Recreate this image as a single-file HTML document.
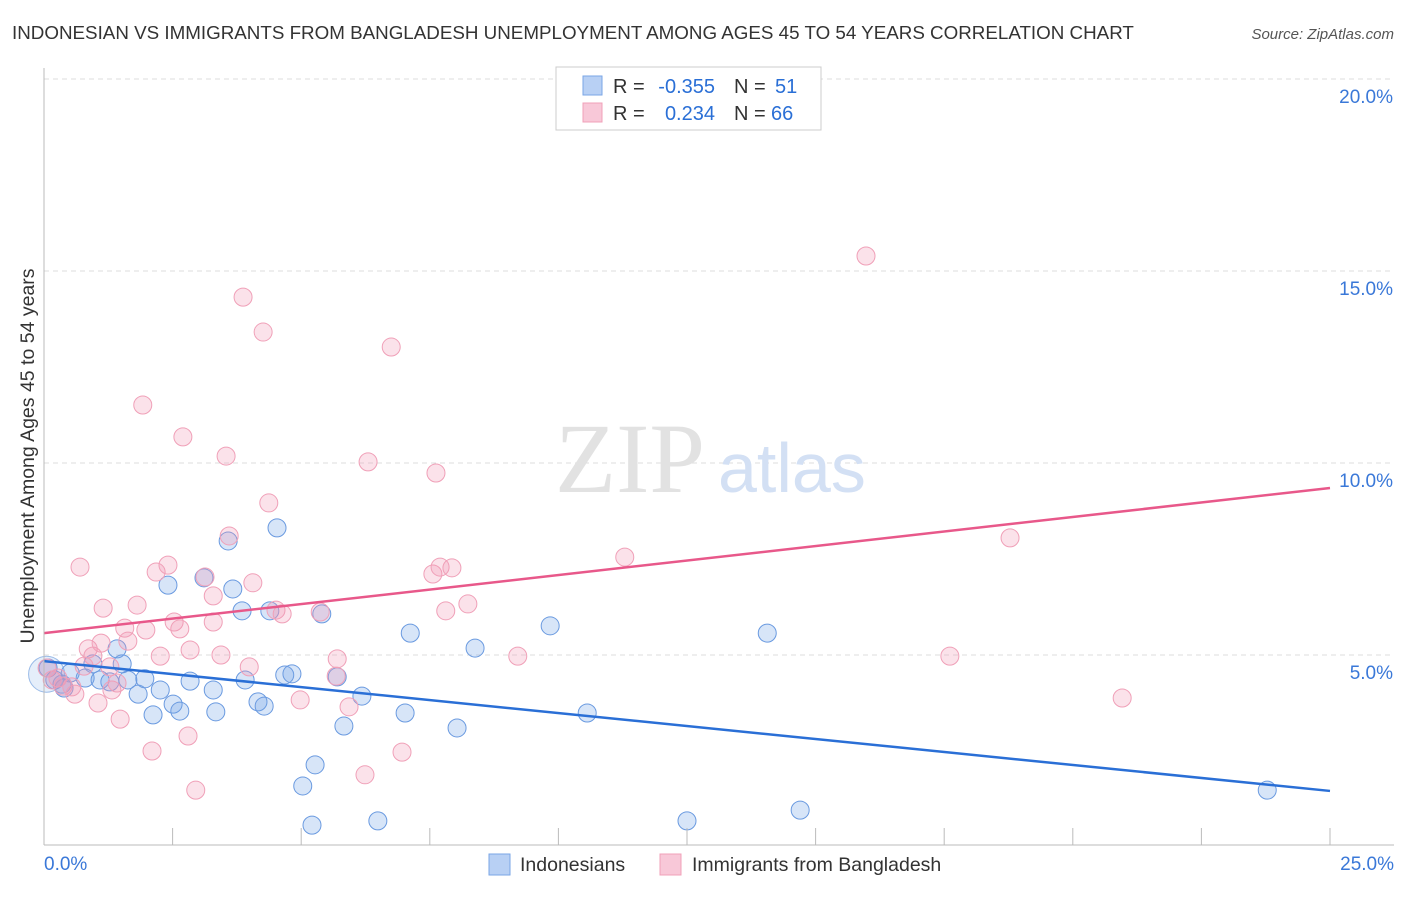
<!DOCTYPE html>
<html><head><meta charset="utf-8"><style>
body{margin:0;background:#fff;font-family:"Liberation Sans",sans-serif;}
svg text{font-family:"Liberation Sans",sans-serif;}
</style></head><body>
<svg width="1406" height="892">
<text x="12" y="39" font-size="18.8" fill="#333">INDONESIAN VS IMMIGRANTS FROM BANGLADESH UNEMPLOYMENT AMONG AGES 45 TO 54 YEARS CORRELATION CHART</text>
<text x="1394" y="39" font-size="15" fill="#555" text-anchor="end" font-style="italic">Source: ZipAtlas.com</text>
<g id="grid"></g>
<text x="555" y="492" font-size="100" fill="#e2e2e2" style="font-family:'Liberation Serif',serif">ZIP</text>
<text x="718" y="492" font-size="70" fill="#d3e0f4">atlas</text>
<g id="pts"></g>
<g id="axes"></g>
<text transform="translate(34,456) rotate(-90)" font-size="19.5" fill="#333" text-anchor="middle">Unemployment Among Ages 45 to 54 years</text>
<g>
<rect x="556" y="67" width="265" height="63" fill="#fff" stroke="#ccc"/>
<rect x="583" y="76" width="19" height="19" fill="#b8d0f4" stroke="#7aa6e6"/>
<rect x="583" y="103" width="19" height="19" fill="#f8c8d8" stroke="#f0a0b8"/>
<text x="613" y="93" font-size="20" fill="#333">R =</text>
<text x="715" y="93" font-size="20" fill="#2a6fd6" text-anchor="end">-0.355</text>
<text x="734" y="93" font-size="20" fill="#333">N =</text>
<text x="775" y="93" font-size="20" fill="#2a6fd6">51</text>
<text x="613" y="120" font-size="20" fill="#333">R =</text>
<text x="715" y="120" font-size="20" fill="#2a6fd6" text-anchor="end">0.234</text>
<text x="734" y="120" font-size="20" fill="#333">N =</text>
<text x="771" y="120" font-size="20" fill="#2a6fd6">66</text>
</g>
<g>
<rect x="489" y="854" width="21" height="21" fill="#b8d0f4" stroke="#7aa6e6"/>
<text x="520" y="871" font-size="19.5" fill="#333">Indonesians</text>
<rect x="660" y="854" width="21" height="21" fill="#f8c8d8" stroke="#f0a0b8"/>
<text x="692" y="871" font-size="19.5" fill="#333">Immigrants from Bangladesh</text>
</g>
</svg>
<script>
const blueX=[0.08,0.21,0.35,0.51,0.80,0.95,1.09,1.28,1.42,1.52,1.63,1.83,1.96,2.12,2.26,2.41,2.51,2.64,2.84,3.11,3.29,3.34,3.58,3.67,3.85,3.91,4.16,4.28,4.39,4.53,4.68,4.82,5.03,5.21,5.27,5.40,5.70,5.83,6.18,6.49,7.02,7.12,8.03,8.38,9.84,10.56,12.50,14.06,14.70,23.78,0.39];
const blueY=[4.66,4.35,4.24,4.53,4.40,4.77,4.35,4.30,5.16,4.77,4.35,3.98,4.38,3.44,4.09,6.82,3.72,3.54,4.32,7.01,4.09,3.52,7.97,6.72,6.15,4.35,3.78,3.67,6.15,8.31,4.48,4.51,1.59,0.57,2.14,6.07,4.43,3.15,3.93,0.68,3.49,5.57,3.10,5.18,5.76,3.49,0.68,5.57,0.96,1.48,4.14];
const pinkX=[0.06,0.16,0.27,0.37,0.60,0.70,0.86,0.95,1.05,1.15,1.11,1.32,1.42,1.48,1.57,1.63,1.81,1.92,1.98,2.10,2.18,2.26,2.41,2.53,2.64,2.70,2.80,2.95,3.13,3.29,3.29,3.44,3.54,3.60,3.87,3.99,4.06,4.26,4.37,4.51,4.63,4.98,5.37,5.70,5.68,5.93,6.24,6.30,6.75,6.96,7.56,7.62,7.70,7.81,7.93,8.24,9.21,11.29,15.98,17.61,18.78,20.96,0.54,1.28,0.78,2.84];
const pinkY=[4.66,4.35,4.40,4.19,3.98,7.29,5.16,4.97,3.75,6.22,5.31,4.09,4.27,3.33,5.70,5.36,6.30,11.51,5.65,2.50,7.16,4.97,7.34,5.86,5.68,10.68,2.89,1.48,7.03,6.54,5.86,5.00,10.18,8.10,14.32,4.69,6.88,13.41,8.96,6.17,6.07,3.83,6.12,4.90,4.45,3.65,1.88,10.03,13.02,2.47,7.11,9.74,7.29,6.15,7.27,6.33,4.97,7.55,15.39,4.97,8.05,3.88,4.17,4.69,4.71,5.13];
const blueTrend=[4.84,1.46];
const pinkTrend=[5.57,9.35];
const yTicks=[5,10,15,20];
const yTickLabels=["5.0%","10.0%","15.0%","20.0%"];
const xTicks=[0,2.5,5,7.5,10,12.5,15,17.5,20,22.5,25];
const NS="http://www.w3.org/2000/svg";
const sx=v=>44+v/25*1286;
const sy=v=>847-v*38.4;
function mk(tag,attrs,parent){const e=document.createElementNS(NS,tag);for(const k in attrs)e.setAttribute(k,attrs[k]);parent.appendChild(e);return e;}
const grid=document.getElementById('grid'),axes=document.getElementById('axes'),pts=document.getElementById('pts');
yTicks.forEach((t,i)=>{
 const l=mk('line',{x1:44,x2:1394,y1:sy(t),y2:sy(t),stroke:'#ddd','stroke-dasharray':'5,4'},grid);
 
 
 const tx=mk('text',{x:1393,y:sy(t)+24,'font-size':19,fill:'#3a78d8','text-anchor':'end'},axes);
 tx.textContent=yTickLabels[i];
 
 
});
mk('line',{x1:44,x2:1394,y1:845,y2:845,stroke:'#bbb'},axes);
mk('line',{x1:44,x2:44,y1:68,y2:845,stroke:'#bbb'},axes);
xTicks.forEach(t=>{if(t===0)return;const l=mk('line',{x1:sx(t),x2:sx(t),y1:828,y2:845,stroke:'#bbb'},axes);
 
 });
const x0=mk('text',{x:44,y:870,'font-size':19,fill:'#3a78d8'},axes);x0.textContent='0.0%';


const x1=mk('text',{x:1394,y:870,'font-size':19,fill:'#3a78d8','text-anchor':'end'},axes);x1.textContent='25.0%';


const big=mk('circle',{cx:sx(0.05),cy:sy(4.5),r:18,fill:'rgba(110,160,230,0.18)',stroke:'#9abbe8','stroke-width':1},pts);


blueX.forEach((x,i)=>{const c=mk('circle',{cx:sx(x),cy:sy(blueY[i]),r:9,fill:'rgba(110,160,230,0.28)',stroke:'#6a9ae0','stroke-width':1},pts);
 
 });
pinkX.forEach((x,i)=>{const c=mk('circle',{cx:sx(x),cy:sy(pinkY[i]),r:9,fill:'rgba(240,150,180,0.28)',stroke:'#f0a0b8','stroke-width':1},pts);
 
 });
const bl=mk('line',{x1:sx(0),y1:sy(blueTrend[0]),x2:sx(25),y2:sy(blueTrend[1]),stroke:'#2a6fd6','stroke-width':2.5},pts);


const pl=mk('line',{x1:sx(0),y1:sy(pinkTrend[0]),x2:sx(25),y2:sy(pinkTrend[1]),stroke:'#e8588a','stroke-width':2.5},pts);


</script>
</body></html>
